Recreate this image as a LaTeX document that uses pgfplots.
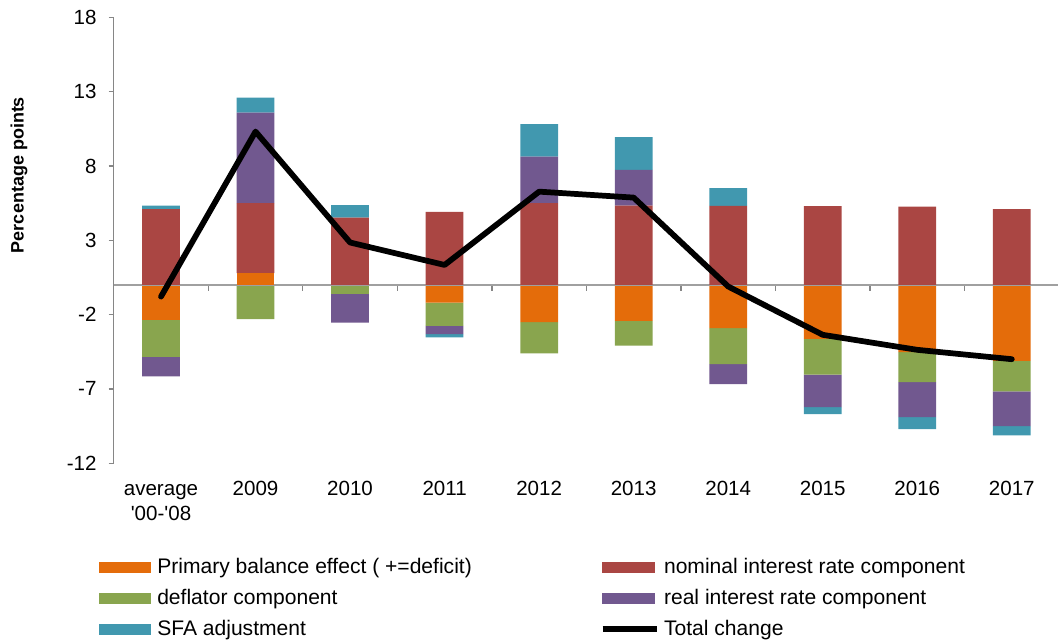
\documentclass[border=0pt]{standalone}
\usepackage{pgfplots}
\pgfplotsset{compat=1.18}
\usepackage{fontspec}
\setmainfont{Liberation Sans}
\definecolor{cPB}{HTML}{E46C0A}
\definecolor{cNI}{HTML}{AA4643}
\definecolor{cDF}{HTML}{89A54E}
\definecolor{cRI}{HTML}{71588F}
\definecolor{cSF}{HTML}{4198AF}
\definecolor{axgray}{HTML}{868686}
\definecolor{zgray}{HTML}{A0A0A0}
\newcommand{\fs}{\fontsize{15.4}{18.75}\selectfont}
\newcommand{\lfs}{\fontsize{15.8}{18.75}\selectfont}
\pgfplotsset{
  base/.style={at={(85.3pt,134.8pt)}, anchor=south west, scale only axis,
    width=709pt, height=334.5pt, xmin=-0.5, xmax=9.5, ymin=-12, ymax=18,
    enlargelimits=false, clip=false},
  barax/.style={base, ybar stacked, bar width=28.3pt},
}
\begin{document}
\begin{tikzpicture}
\useasboundingbox (0,0) rectangle (793.5pt,482.25pt);
% ---------- negative parts + axis decorations
\begin{axis}[barax,
  axis x line*=bottom, axis y line*=left,
  x axis line style={draw=none},
  y axis line style={draw=axgray, line width=1pt},
  xtick={0,...,9},
  xticklabels={{\begin{tabular}[t]{@{}c@{}}average\\\textquotesingle00-\textquotesingle08\end{tabular}},2009,2010,2011,2012,2013,2014,2015,2016,2017},
  x tick style={draw=none},
  ytick={-12,-7,-2,3,8,13,18},
  yticklabels={-12,-7,-2,3,8,13,18},
  y tick style={draw=axgray, line width=1pt},
  tick align=outside, major tick length=3.75pt,
  tick label style={font=\fs},
  xticklabel style={anchor=base, inner sep=0pt, yshift=-20.8pt},
  yticklabel style={anchor=east, inner sep=0pt, xshift=-9pt},
]
\addplot[fill=cPB, draw=none] coordinates {(0,-2.35) (1,0) (2,0) (3,-1.19) (4,-2.51) (5,-2.42) (6,-2.91) (7,-3.63) (8,-4.53) (9,-5.11)};
\addplot[fill=cNI, draw=none] coordinates {(0,0) (1,0) (2,0) (3,0) (4,0) (5,0) (6,0) (7,0) (8,0) (9,0)};
\addplot[fill=cDF, draw=none] coordinates {(0,-2.50) (1,-2.31) (2,-0.61) (3,-1.57) (4,-2.09) (5,-1.66) (6,-2.42) (7,-2.40) (8,-2.01) (9,-2.06)};
\addplot[fill=cRI, draw=none] coordinates {(0,-1.30) (1,0) (2,-1.93) (3,-0.56) (4,0) (5,0) (6,-1.35) (7,-2.19) (8,-2.36) (9,-2.33)};
\addplot[fill=cSF, draw=none] coordinates {(0,0) (1,0) (2,0) (3,-0.22) (4,0) (5,0) (6,0) (7,-0.48) (8,-0.80) (9,-0.63)};
\end{axis}
% ---------- positive parts
\begin{axis}[barax, hide axis]
\addplot[fill=cPB, draw=none] coordinates {(0,0) (1,0.79) (2,0) (3,0) (4,0) (5,0) (6,0) (7,0) (8,0) (9,0)};
\addplot[fill=cNI, draw=none] coordinates {(0,5.09) (1,4.70) (2,4.53) (3,4.91) (4,5.49) (5,5.33) (6,5.31) (7,5.29) (8,5.27) (9,5.09)};
\addplot[fill=cDF, draw=none] coordinates {(0,0) (1,0) (2,0) (3,0) (4,0) (5,0) (6,0) (7,0) (8,0) (9,0)};
\addplot[fill=cRI, draw=none] coordinates {(0,0) (1,6.10) (2,0) (3,0) (4,3.14) (5,2.40) (6,0) (7,0) (8,0) (9,0)};
\addplot[fill=cSF, draw=none] coordinates {(0,0.24) (1,1.00) (2,0.83) (3,0) (4,2.18) (5,2.20) (6,1.19) (7,0) (8,0) (9,0)};
\draw[zgray, line width=1pt] (axis cs:-0.5,0) -- (axis cs:9.5,0);
\pgfplotsinvokeforeach{0.5,1.5,2.5,3.5,4.5,5.5,6.5,7.5,8.5}{
  \draw[axgray, line width=1pt] (axis cs:#1,0) -- ++(0pt,-4.5pt);
}
\end{axis}
% ---------- total line + legend
\begin{axis}[base, hide axis,
  legend columns=2, legend cell align=left,
  legend style={at={(-0.01559,-0.21465)}, anchor=north west, draw=none, fill=none,
    inner sep=0pt, outer sep=0pt, row sep=10.65pt, column sep=0pt, font=\lfs,
    nodes={inner sep=0pt, text height=11pt, text depth=1.6pt}},
]
\addlegendimage{legend image code/.code={\fill[cPB] (0pt,-4pt) rectangle (38.6pt,4pt); \path (43.3pt,0pt);}}
\addlegendentry{\makebox[331.7pt][l]{Primary balance effect ( +=deficit)}}
\addlegendimage{legend image code/.code={\fill[cNI] (0pt,-4pt) rectangle (38.6pt,4pt); \path (43.3pt,0pt);}}
\addlegendentry{nominal interest rate component}
\addlegendimage{legend image code/.code={\fill[cDF] (0pt,-4pt) rectangle (38.6pt,4pt); \path (43.3pt,0pt);}}
\addlegendentry{\makebox[331.7pt][l]{deflator component}}
\addlegendimage{legend image code/.code={\fill[cRI] (0pt,-4pt) rectangle (38.6pt,4pt); \path (43.3pt,0pt);}}
\addlegendentry{real interest rate component}
\addlegendimage{legend image code/.code={\fill[cSF] (0pt,-4pt) rectangle (38.6pt,4pt); \path (43.3pt,0pt);}}
\addlegendentry{\makebox[331.7pt][l]{SFA adjustment}}
\addplot[black, line width=4.3pt, line join=round, line cap=round,
  legend image code/.code={\draw[black, line width=4.5pt, line cap=butt] (0pt,0pt) -- (40.5pt,0pt); \path (44pt,0pt);}]
  coordinates {(0,-0.79) (1,10.31) (2,2.85) (3,1.34) (4,6.27) (5,5.87) (6,-0.11) (7,-3.36) (8,-4.37) (9,-5.00)};
\addlegendentry{Total change}
\end{axis}
\node[rotate=90, font=\bfseries\fontsize{13.5}{16}\selectfont] at (14.25pt,351pt) {Percentage points};
\end{tikzpicture}
\end{document}
